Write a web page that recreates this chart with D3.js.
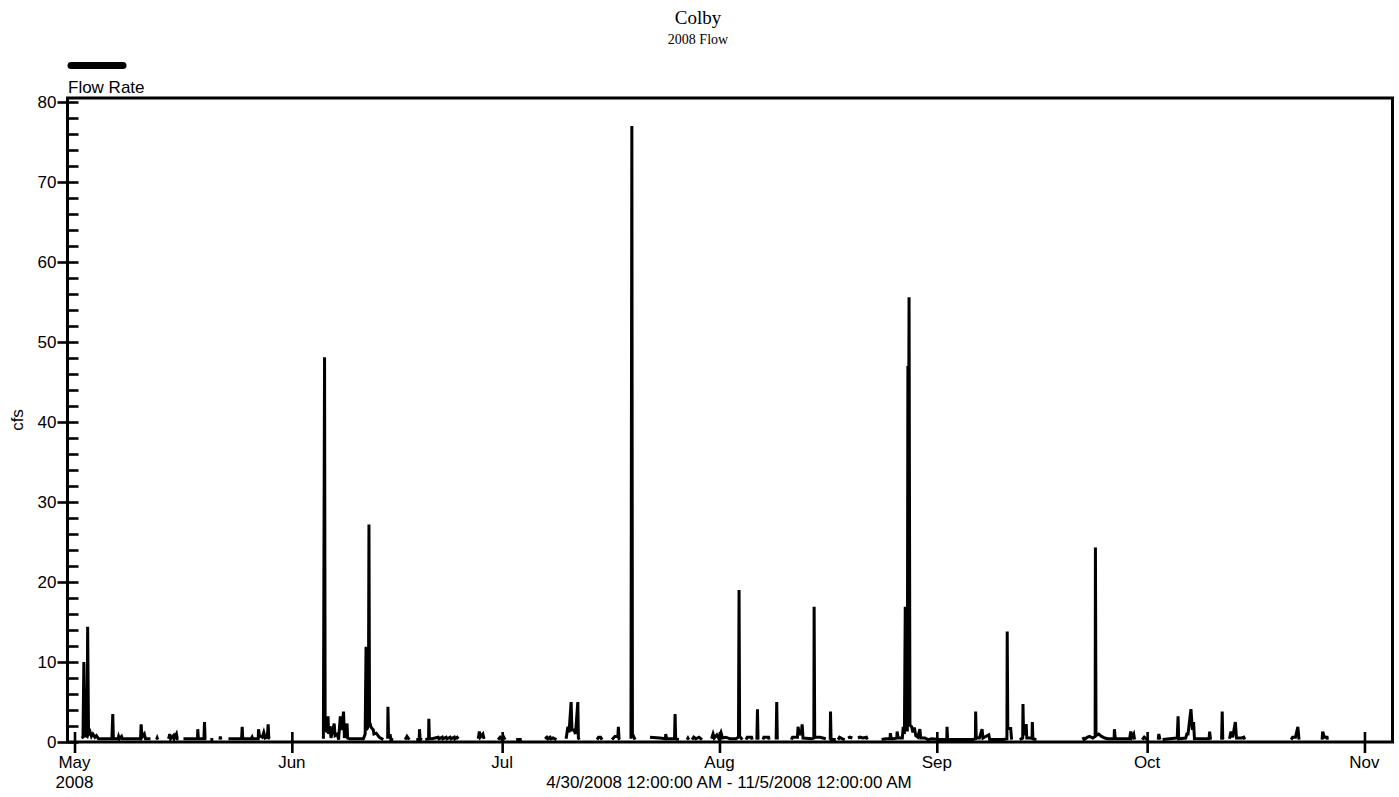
<!DOCTYPE html>
<html>
<head>
<meta charset="utf-8">
<script src="https://cdn.jsdelivr.net/npm/d3@7"></script>
<style>
  body { margin: 0; background: #fff; }
  text { font-family: "Liberation Sans", Arial, sans-serif; fill: #000; }
  .serif { font-family: "Liberation Serif", "Times New Roman", serif; }
</style>
</head>
<body>
<div id="chart"></div>
<script>
// flow readings (cfs); null = no data (gap in the line)
var readingTimes = [
  // early May
  "2008-05-02 00:00","2008-05-02 05:00","2008-05-02 08:00","2008-05-02 12:00","2008-05-02 19:00","2008-05-02 21:00","2008-05-03 00:00","2008-05-03 05:00","2008-05-03 10:00","2008-05-03 15:00","2008-05-03 22:00","2008-05-04 03:00","2008-05-04 10:00",
  "2008-05-06 08:00","2008-05-06 11:00","2008-05-06 13:00","2008-05-07 05:00","2008-05-07 07:00","2008-05-07 10:00","2008-05-07 17:00","2008-05-07 20:00",
  "2008-05-10 10:00","2008-05-10 12:00","2008-05-10 15:00","2008-05-10 23:00","2008-05-11 03:00","2008-05-11 20:00","2008-05-12 00:00",
  "2008-05-12 17:00","2008-05-12 19:00","2008-05-12 21:00","2008-05-13 00:00",
  "2008-05-14 10:00","2008-05-14 14:00","2008-05-14 17:00","2008-05-15 03:00","2008-05-15 05:00","2008-05-15 13:00","2008-05-15 16:00","2008-05-15 20:00","2008-05-16 00:00",
  "2008-05-16 13:00","2008-05-18 13:00","2008-05-18 14:00","2008-05-18 16:00","2008-05-19 11:00","2008-05-19 13:00","2008-05-19 15:00","2008-05-19 19:00","2008-05-20 00:00",
  "2008-05-20 09:00","2008-05-20 19:00","2008-05-21 00:00",
  "2008-05-21 18:00","2008-05-21 19:00","2008-05-21 21:00","2008-05-22 00:00",
  "2008-05-22 23:00","2008-05-24 20:00","2008-05-24 22:00","2008-05-25 00:00","2008-05-26 05:00","2008-05-26 08:00","2008-05-26 10:00","2008-05-27 05:00","2008-05-27 06:00","2008-05-27 09:00","2008-05-27 19:00","2008-05-28 00:00","2008-05-28 05:00","2008-05-28 12:00","2008-05-28 15:00","2008-05-28 17:00","2008-05-28 21:00","2008-05-29 00:00",
  // June
  "2008-06-05 12:00","2008-06-05 16:00","2008-06-05 18:00","2008-06-06 00:00","2008-06-06 04:00","2008-06-06 06:00","2008-06-06 11:00","2008-06-06 14:00","2008-06-07 01:00","2008-06-07 04:00","2008-06-07 12:00","2008-06-07 16:00","2008-06-07 22:00","2008-06-08 03:00","2008-06-08 09:00","2008-06-08 12:00","2008-06-08 21:00","2008-06-08 23:00","2008-06-09 05:00",
  "2008-06-11 05:00","2008-06-11 11:00","2008-06-11 14:00","2008-06-11 16:00","2008-06-11 22:00","2008-06-12 00:00","2008-06-12 02:00","2008-06-12 08:00","2008-06-12 15:00","2008-06-12 17:00","2008-06-13 01:00","2008-06-13 11:00","2008-06-14 01:00","2008-06-14 06:00",
  "2008-06-14 16:00","2008-06-14 17:00","2008-06-14 19:00","2008-06-15 01:00","2008-06-15 03:00","2008-06-15 11:00","2008-06-15 14:00",
  "2008-06-17 04:00","2008-06-17 10:00","2008-06-17 18:00","2008-06-18 00:00",
  "2008-06-18 18:00","2008-06-19 04:00","2008-06-19 05:00","2008-06-19 07:00","2008-06-19 14:00","2008-06-19 18:00",
  "2008-06-20 01:00","2008-06-20 12:00","2008-06-20 13:00","2008-06-20 15:00","2008-06-21 00:00","2008-06-21 21:00","2008-06-22 00:00","2008-06-22 11:00","2008-06-22 13:00","2008-06-23 00:00","2008-06-23 03:00","2008-06-23 14:00","2008-06-23 17:00","2008-06-24 04:00","2008-06-24 06:00","2008-06-24 14:00","2008-06-24 18:00","2008-06-25 00:00",
  "2008-06-27 14:00","2008-06-27 18:00","2008-06-27 21:00","2008-06-28 06:00","2008-06-28 10:00","2008-06-28 14:00",
  "2008-06-30 10:00","2008-06-30 17:00","2008-07-01 00:00","2008-07-01 04:00","2008-07-01 10:00","2008-07-01 14:00",
  // July
  "2008-07-03 00:00","2008-07-03 19:00","2008-07-04 00:00",
  "2008-07-07 03:00","2008-07-07 09:00","2008-07-07 13:00","2008-07-07 20:00","2008-07-07 23:00","2008-07-08 06:00","2008-07-08 18:00","2008-07-09 00:00",
  "2008-07-10 03:00","2008-07-10 09:00","2008-07-10 13:00","2008-07-10 20:00","2008-07-10 23:00","2008-07-11 06:00","2008-07-11 11:00","2008-07-11 19:00","2008-07-11 21:00","2008-07-12 00:00","2008-07-12 04:00",
  "2008-07-14 13:00","2008-07-14 18:00","2008-07-15 01:00","2008-07-15 06:00","2008-07-15 10:00",
  "2008-07-16 16:00","2008-07-17 02:00","2008-07-17 12:00","2008-07-17 14:00","2008-07-17 16:00","2008-07-17 19:00","2008-07-18 00:00",
  "2008-07-19 09:00","2008-07-19 12:00","2008-07-19 14:00","2008-07-19 23:00","2008-07-20 04:00",
  "2008-07-22 02:00","2008-07-23 12:00","2008-07-24 07:00","2008-07-24 08:00","2008-07-24 11:00","2008-07-25 14:00","2008-07-25 16:00","2008-07-25 18:00","2008-07-26 05:00","2008-07-26 10:00",
  "2008-07-27 09:00","2008-07-27 12:00","2008-07-27 15:00","2008-07-27 20:00",
  "2008-07-28 02:00","2008-07-28 08:00","2008-07-28 15:00","2008-07-29 02:00","2008-07-29 12:00","2008-07-29 18:00",
  "2008-07-30 21:00","2008-07-31 02:00","2008-07-31 06:00","2008-07-31 15:00","2008-07-31 21:00","2008-08-01 05:00","2008-08-01 10:00","2008-08-01 22:00","2008-08-02 12:00","2008-08-03 08:00","2008-08-03 17:00","2008-08-03 19:00","2008-08-03 21:00","2008-08-04 02:00","2008-08-04 06:00","2008-08-04 10:00",
  // August
  "2008-08-04 19:00","2008-08-04 23:00","2008-08-05 14:00","2008-08-05 16:00","2008-08-05 20:00",
  "2008-08-06 08:00","2008-08-06 10:00","2008-08-06 12:00","2008-08-06 16:00",
  "2008-08-07 05:00","2008-08-07 08:00","2008-08-08 00:00","2008-08-08 02:00","2008-08-08 06:00",
  "2008-08-09 02:00","2008-08-09 04:00","2008-08-09 06:00","2008-08-09 10:00",
  "2008-08-11 06:00","2008-08-11 10:00","2008-08-11 18:00","2008-08-12 03:00","2008-08-12 05:00","2008-08-12 09:00","2008-08-12 16:00","2008-08-12 19:00","2008-08-12 22:00","2008-08-14 05:00","2008-08-14 11:00","2008-08-14 12:00","2008-08-14 14:00","2008-08-15 08:00","2008-08-16 04:00","2008-08-16 08:00",
  "2008-08-16 19:00","2008-08-16 20:00","2008-08-16 22:00","2008-08-17 14:00","2008-08-17 18:00",
  "2008-08-17 22:00","2008-08-18 03:00","2008-08-18 13:00","2008-08-18 21:00","2008-08-19 02:00",
  "2008-08-19 08:00","2008-08-19 14:00","2008-08-19 23:00","2008-08-20 04:00",
  "2008-08-20 18:00","2008-08-21 01:00","2008-08-21 11:00","2008-08-21 23:00","2008-08-22 02:00","2008-08-22 06:00",
  "2008-08-24 03:00","2008-08-24 18:00","2008-08-25 08:00","2008-08-25 09:00","2008-08-25 12:00","2008-08-25 21:00","2008-08-26 07:00","2008-08-26 08:00","2008-08-26 12:00","2008-08-27 02:00","2008-08-27 05:00","2008-08-27 09:00","2008-08-27 12:00","2008-08-27 15:00","2008-08-27 19:00","2008-08-27 21:00","2008-08-27 22:00","2008-08-28 01:00","2008-08-28 04:00","2008-08-28 10:00","2008-08-28 14:00","2008-08-28 19:00","2008-08-29 00:00","2008-08-29 07:00","2008-08-29 14:00","2008-08-29 17:00","2008-08-30 07:00","2008-08-30 18:00","2008-08-31 06:00","2008-09-01 10:00","2008-09-02 10:00","2008-09-02 11:00","2008-09-02 13:00","2008-09-03 07:00",
  // September
  "2008-09-06 03:00","2008-09-06 12:00","2008-09-06 13:00","2008-09-06 15:00","2008-09-07 02:00","2008-09-07 11:00","2008-09-07 14:00","2008-09-08 10:00","2008-09-08 13:00","2008-09-10 10:00","2008-09-11 00:00","2008-09-11 01:00","2008-09-11 03:00","2008-09-11 13:00","2008-09-11 16:00","2008-09-11 20:00",
  "2008-09-12 20:00","2008-09-13 06:00","2008-09-13 07:00","2008-09-13 09:00","2008-09-13 17:00","2008-09-13 18:00","2008-09-13 20:00","2008-09-14 14:00","2008-09-14 15:00","2008-09-14 17:00","2008-09-15 05:00","2008-09-15 10:00",
  "2008-09-21 20:00","2008-09-22 00:00","2008-09-22 12:00","2008-09-22 19:00","2008-09-23 06:00","2008-09-23 14:00","2008-09-23 15:00","2008-09-23 17:00","2008-09-24 02:00","2008-09-24 12:00","2008-09-24 23:00","2008-09-25 09:00","2008-09-26 07:00","2008-09-26 08:00","2008-09-26 11:00","2008-09-28 12:00","2008-09-28 16:00","2008-09-28 20:00","2008-09-29 02:00","2008-09-29 05:00","2008-09-29 10:00",
  "2008-09-30 07:00","2008-09-30 14:00","2008-10-01 00:00","2008-10-01 04:00",
  // October
  "2008-10-02 14:00","2008-10-02 16:00","2008-10-02 20:00","2008-10-03 00:00",
  "2008-10-03 05:00","2008-10-04 05:00","2008-10-05 07:00","2008-10-05 10:00","2008-10-05 12:00","2008-10-06 12:00","2008-10-06 16:00","2008-10-06 20:00","2008-10-07 06:00","2008-10-07 11:00","2008-10-07 15:00","2008-10-07 18:00","2008-10-09 12:00","2008-10-09 20:00","2008-10-09 22:00","2008-10-10 01:00","2008-10-10 06:00",
  "2008-10-11 15:00","2008-10-11 17:00","2008-10-11 19:00","2008-10-12 00:00",
  "2008-10-12 18:00","2008-10-12 23:00","2008-10-13 05:00","2008-10-13 14:00","2008-10-13 18:00","2008-10-14 12:00","2008-10-14 19:00","2008-10-14 22:00","2008-10-15 02:00",
  "2008-10-21 13:00","2008-10-21 18:00","2008-10-22 04:00","2008-10-22 12:00","2008-10-22 16:00","2008-10-22 20:00",
  "2008-10-25 23:00","2008-10-26 01:00","2008-10-26 07:00","2008-10-26 16:00","2008-10-26 17:00"
];

var flowCfs = [
  // early May
  0.5,0.6,10.0,0.8,0.7,14.4,1.0,1.3,0.7,1.0,0.6,0.8,0.4,
  0.4,3.5,0.4,0.4,0.7,0.4,0.7,0.4,
  0.4,2.2,0.6,1.0,0.4,0.4,null,
  0.3,0.5,0.3,null,
  0.4,1.0,0.4,0.8,0.4,1.0,0.4,0.4,null,
  0.4,0.4,1.6,0.4,0.4,2.5,0.4,0.4,null,
  0.3,0.3,null,
  0.3,0.7,0.3,null,
  0.4,0.4,1.9,0.4,0.4,0.6,0.4,0.4,1.6,0.8,0.6,1.2,0.5,0.6,2.2,0.5,0.4,null,
  // June
  0.4,48.1,2.0,1.2,3.2,1.0,2.0,0.5,2.3,0.8,1.0,0.3,3.2,1.5,3.8,0.5,2.3,0.5,0.4,
  0.4,1.0,11.9,1.5,2.0,27.2,2.5,1.8,1.5,1.0,1.1,0.6,0.3,null,
  0.4,4.4,0.8,0.8,0.3,0.3,null,
  0.3,0.7,0.3,null,
  0.3,0.3,1.6,0.4,0.3,null,
  0.3,0.4,2.9,0.4,0.4,0.6,0.4,0.6,0.4,0.6,0.4,0.6,0.4,0.6,0.4,0.6,0.4,null,
  0.4,1.3,0.6,1.0,0.4,null,
  0.3,0.6,0.3,0.7,0.3,null,
  // July
  0.3,0.3,null,
  0.4,0.6,0.4,0.6,0.4,0.5,0.3,null,
  0.4,1.9,1.2,5.0,1.5,1.5,1.0,5.0,0.5,0.3,null,
  0.3,0.6,0.6,0.3,null,
  0.3,0.7,0.7,1.9,0.4,0.3,null,
  0.4,77.0,1.0,0.3,null,
  0.6,0.5,0.4,1.0,0.4,0.4,3.5,0.4,0.3,null,
  0.3,0.5,0.3,null,
  0.3,0.6,0.4,0.6,0.3,null,
  0.4,1.0,0.5,0.9,0.5,1.2,0.5,0.6,0.4,0.4,0.6,19.0,0.7,0.5,0.3,null,
  // August
  0.3,0.6,0.6,0.3,null,
  0.3,4.1,0.3,null,
  0.3,0.6,0.6,0.3,null,
  0.3,5.0,0.3,null,
  0.3,0.6,0.6,0.6,1.9,1.0,1.0,2.2,0.5,0.4,0.5,16.9,0.6,0.6,0.4,null,
  0.3,3.8,0.3,0.3,null,
  0.3,0.6,0.4,0.3,null,
  0.5,0.6,0.5,null,
  0.5,0.6,0.5,0.6,0.3,null,
  0.3,0.4,0.4,1.1,0.4,0.4,0.5,1.3,0.5,0.5,1.9,1.0,16.9,1.5,1.5,47.0,20.0,55.6,2.1,1.9,1.2,1.8,0.8,0.6,1.6,0.5,0.5,0.3,0.4,0.3,0.3,1.9,0.3,0.3,
  // September
  0.3,0.4,3.8,0.5,0.5,1.6,0.5,0.9,0.3,0.3,0.4,13.8,1.7,1.7,0.3,null,
  0.3,0.5,4.75,1.0,1.0,2.25,0.5,0.5,2.5,0.4,0.3,null,
  0.6,0.3,0.6,0.7,0.5,0.7,24.3,0.8,1.0,0.7,0.5,0.4,0.4,1.6,0.4,0.4,1.3,0.6,1.0,0.3,null,
  0.3,0.6,0.3,null,
  // October
  0.3,1.0,0.3,null,
  0.3,0.4,0.5,3.2,0.4,0.5,1.0,1.0,4.1,1.5,2.5,0.4,0.4,0.4,1.3,0.3,null,
  0.3,3.8,0.3,null,
  0.4,1.3,0.6,2.5,0.5,0.5,0.6,0.3,null,
  0.3,0.6,0.6,1.9,0.3,null,
  0.3,1.3,0.6,0.6,0.3
];

// axis ticks and labels
var yMajorTicks = [0, 10, 20, 30, 40, 50, 60, 70, 80];
var yMinorTicks = [2, 4, 6, 8, 12, 14, 16, 18, 22, 24, 26, 28, 32, 34, 36, 38,
                   42, 44, 46, 48, 52, 54, 56, 58, 62, 64, 66, 68, 72, 74, 76, 78];
var monthTicks = ["2008-05-01", "2008-06-01", "2008-07-01", "2008-08-01", "2008-09-01", "2008-10-01", "2008-11-01"];
var monthLabels = [["May", "2008"], ["Jun"], ["Jul"], ["Aug"], ["Sep"], ["Oct"], ["Nov"]];
var dateRange = ["2008-04-30 00:00", "2008-11-05 00:00"];
var rangeLabel = "4/30/2008 12:00:00 AM - 11/5/2008 12:00:00 AM";

if (readingTimes.length != flowCfs.length) console.log("length mismatch", readingTimes.length, flowCfs.length);

var parseTime = d3.timeParse("%Y-%m-%d %H:%M");
var parseDay = d3.timeParse("%Y-%m-%d");

var data = readingTimes.map(function(t, i) {
  return { time: parseTime(t), flow: flowCfs[i] };
});

// plot box
var margin = {top: 98, right: 6, bottom: 55, left: 67.5},
    fullWidth = 1399, fullHeight = 797,
    width = 1392.5 - margin.left,
    height = 742 - margin.top;

var svg = d3.select("#chart")
  .append("svg")
    .attr("width", fullWidth)
    .attr("height", fullHeight);

var chart = svg.append("g")
    .attr("transform", "translate(" + margin.left + "," + margin.top + ")");

var x = d3.scaleTime()
    .domain(dateRange.map(parseTime))
    .range([0, width]);

var y = d3.scaleLinear()
    .domain([0, 80.5])
    .range([height, 0]);

// titles
svg.append("text")
    .attr("class", "serif")
    .attr("x", 698).attr("y", 24)
    .attr("text-anchor", "middle")
    .style("font-size", "19px")
    .text("Colby");

svg.append("text")
    .attr("class", "serif")
    .attr("x", 698).attr("y", 44)
    .attr("text-anchor", "middle")
    .style("font-size", "14px")
    .text("2008 Flow");

// legend
svg.append("line")
    .attr("x1", 71).attr("x2", 123)
    .attr("y1", 65.5).attr("y2", 65.5)
    .attr("stroke", "#000")
    .attr("stroke-width", 7)
    .attr("stroke-linecap", "round");

svg.append("text")
    .attr("x", 68).attr("y", 93)
    .style("font-size", "17px")
    .text("Flow Rate");

// data line
var line = d3.line()
    .defined(function(d) { return d.flow !== null; })
    .x(function(d) { return x(d.time); })
    .y(function(d) { return y(d.flow); });

chart.append("path")
    .datum(data)
    .attr("fill", "none")
    .attr("stroke", "#000")
    .attr("stroke-width", 3)
    .attr("stroke-linejoin", "miter")
    .attr("d", line);

// y axis: outward major ticks with labels, inward ticks for all
var yOut = chart.append("g")
    .call(d3.axisLeft(y).tickValues(yMajorTicks).tickSize(10).tickPadding(1));
var yIn = chart.append("g")
    .call(d3.axisLeft(y).tickValues(yMajorTicks.concat(yMinorTicks)).tickSize(-11).tickFormat(""));

// x axis: month ticks crossing the bottom line
var monthDates = monthTicks.map(parseDay);
var xOut = chart.append("g")
    .attr("transform", "translate(0," + height + ")")
    .call(d3.axisBottom(x).tickValues(monthDates).tickSize(11).tickFormat(""));
var xIn = chart.append("g")
    .attr("transform", "translate(0," + height + ")")
    .call(d3.axisBottom(x).tickValues(monthDates).tickSize(-10).tickFormat(""));

[yOut, yIn, xOut, xIn].forEach(function(g) {
  g.select(".domain").remove();
  g.selectAll(".tick line").attr("stroke", "#000").attr("stroke-width", 2.6);
});
yOut.selectAll(".tick text")
    .style("font-size", "17px")
    .style("font-family", "'Liberation Sans', Arial, sans-serif")
    .attr("fill", "#000");

// month labels
chart.append("g")
  .selectAll("text")
  .data(monthDates)
  .enter()
  .append("text")
    .attr("x", function(d) { return x(d); })
    .attr("y", height + 26)
    .attr("text-anchor", "middle")
    .style("font-size", "17px")
    .each(function(d, i) {
      var t = d3.select(this);
      monthLabels[i].forEach(function(s, j) {
        t.append("tspan")
          .attr("x", x(d))
          .attr("dy", j == 0 ? 0 : 20)
          .text(s);
      });
    });

// frame
chart.append("rect")
    .attr("x", 0).attr("y", 0)
    .attr("width", width).attr("height", height)
    .attr("fill", "none")
    .attr("stroke", "#000")
    .attr("stroke-width", 3);

// axis labels
svg.append("text")
    .attr("transform", "translate(23," + (margin.top + height / 2) + ") rotate(-90)")
    .attr("text-anchor", "middle")
    .style("font-size", "17px")
    .text("cfs");

svg.append("text")
    .attr("x", 729).attr("y", 788)
    .attr("text-anchor", "middle")
    .style("font-size", "17px")
    .text(rangeLabel);
</script>
</body>
</html>
